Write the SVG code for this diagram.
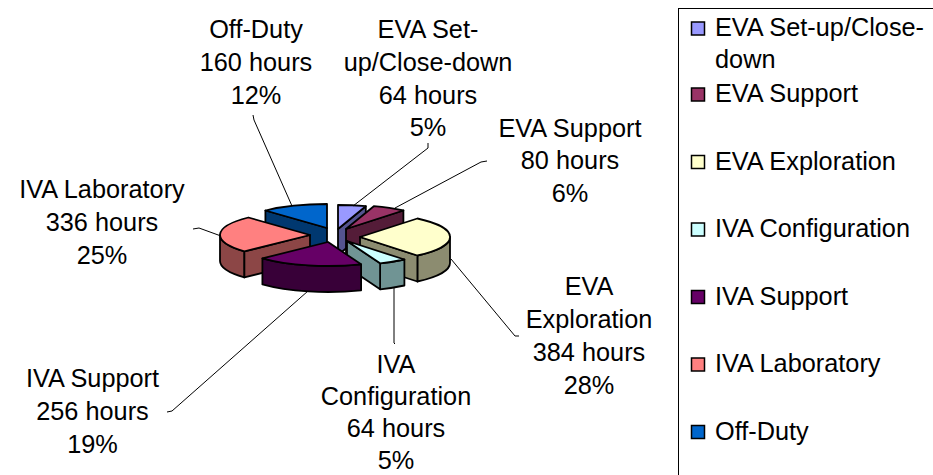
<svg xmlns="http://www.w3.org/2000/svg" width="933" height="475" viewBox="0 0 933 475">
<style>
 text { font-family: "Liberation Sans", Arial, sans-serif; font-size: 25.3px; fill: #000; }
 .lbl { text-anchor: middle; }
 .f { stroke: #000; stroke-width: 1.8; stroke-linejoin: round; }
 .lead { fill: none; stroke: #000; stroke-width: 1; }
 .mk { stroke: #000; stroke-width: 1.5; }
</style>
<rect width="933" height="475" fill="#fff"/>

<g id="pie">
 <g id="slice-offduty">
  <path class="f" fill="#003870" d="M327,228 L265.4,210.5 L265.4,236.5 L327,254 Z"/>
  <path class="f" fill="#0066CC" d="M327,228 L265.4,210.5 A90,24 0 0 1 327,204 Z"/>
 </g>
 <g id="slice-eva-setup">
  <path class="f" fill="#545490" d="M338,229 L365.8,206.2 L365.8,232.2 L338,255 Z"/>
  <path class="f" fill="#9999FF" d="M338,229 L338,205 A90,24 0 0 1 365.8,206.2 Z"/>
 </g>
 <g id="slice-eva-support">
  <path class="f" fill="#541C38" d="M346,229 L403.4,210.5 L403.4,236.5 L346,255 Z"/>
  <path class="f" fill="#993366" d="M346,229 L373.8,206.2 A90,24 0 0 1 403.4,210.5 Z"/>
 </g>
 <g id="slice-iva-lab">
  <path class="f" fill="#8C4646" d="M244.4,251.4 A90,24 0 0 1 220,235 L220,261 A90,24 0 0 0 244.4,277.4 Z"/>
  <path class="f" fill="#8C4646" d="M310,235 L244.4,251.4 L244.4,277.4 L310,261 Z"/>
  <path class="f" fill="#FF8080" d="M310,235 L244.4,251.4 A90,24 0 0 1 248.4,217.5 Z"/>
 </g>
 <g id="slice-eva-exploration">
  <path class="f" fill="#8C8C70" d="M450,237 A90,24 0 0 1 417.4,255.5 L417.4,281.5 A90,24 0 0 0 450,263 Z"/>
  <path class="f" fill="#8C8C70" d="M360,237 L417.4,255.5 L417.4,281.5 L360,263 Z"/>
  <path class="f" fill="#FFFFCC" d="M360,237 L417.4,218.5 A90,24 0 0 1 417.4,255.5 Z"/>
 </g>
 <g id="slice-iva-config">
  <path class="f" fill="#709494" d="M404.4,259.5 A90,24 0 0 1 380.1,263.3 L380.1,289.3 A90,24 0 0 0 404.4,285.5 Z"/>
  <path class="f" fill="#709494" d="M347,241 L380.1,263.3 L380.1,289.3 L347,267 Z"/>
  <path class="f" fill="#CCFFFF" d="M347,241 L404.4,259.5 A90,24 0 0 1 380.1,263.3 Z"/>
 </g>
 <g id="slice-iva-support">
  <path class="f" fill="#380038" d="M361.1,264.3 A90,24 0 0 1 262.4,258.4 L262.4,284.4 A90,24 0 0 0 361.1,290.3 Z"/>
  <path class="f" fill="#660066" d="M328,242 L361.1,264.3 A90,24 0 0 1 262.4,258.4 Z"/>
 </g>
</g>

<g id="connectors">
 <path class="lead" d="M253,115 L254,120 L292,206"/>
 <path class="lead" d="M428,143 L428,148 L353,206"/>
 <path class="lead" d="M487,161 L481,162 L395,208"/>
 <path class="lead" d="M193,229 L199,228 L221,236"/>
 <path class="lead" d="M519,336 L515,336 L451,259"/>
 <path class="lead" d="M395,344 L394,343 L394,287"/>
 <path class="lead" d="M167,412 L172,411 L308,291"/>
</g>

<g id="label-offduty" class="lbl">
 <text x="256" y="38">Off-Duty</text>
 <text x="256" y="71">160 hours</text>
 <text x="256" y="103.5">12%</text>
</g>
<g id="label-eva-setup" class="lbl">
 <text x="428" y="38">EVA Set-</text>
 <text x="428" y="71">up/Close-down</text>
 <text x="428" y="103.5">64 hours</text>
 <text x="428" y="136">5%</text>
</g>
<g id="label-eva-support" class="lbl">
 <text x="570" y="136.5">EVA Support</text>
 <text x="570" y="169">80 hours</text>
 <text x="570" y="201.5">6%</text>
</g>
<g id="label-iva-lab" class="lbl">
 <text x="102" y="198">IVA Laboratory</text>
 <text x="102" y="231">336 hours</text>
 <text x="102" y="264">25%</text>
</g>
<g id="label-eva-exploration" class="lbl">
 <text x="589" y="295">EVA</text>
 <text x="589" y="328">Exploration</text>
 <text x="589" y="361">384 hours</text>
 <text x="589" y="394">28%</text>
</g>
<g id="label-iva-config" class="lbl">
 <text x="396" y="373">IVA</text>
 <text x="396" y="405">Configuration</text>
 <text x="396" y="437">64 hours</text>
 <text x="396" y="469">5%</text>
</g>
<g id="label-iva-support" class="lbl">
 <text x="92.5" y="387">IVA Support</text>
 <text x="92.5" y="420">256 hours</text>
 <text x="92.5" y="453">19%</text>
</g>

<g id="legend">
 <rect x="678.5" y="8.5" width="300" height="500" fill="none" stroke="#000" stroke-width="1"/>
 <rect class="mk" x="691.5" y="22" width="13" height="13" fill="#9999FF"/>
 <text x="715" y="36">EVA Set-up/Close-</text>
 <text x="715" y="68">down</text>
 <rect class="mk" x="691.5" y="88" width="13" height="13" fill="#993366"/>
 <text x="715" y="102">EVA Support</text>
 <rect class="mk" x="691.5" y="155.5" width="13" height="13" fill="#FFFFCC"/>
 <text x="715" y="169.5">EVA Exploration</text>
 <rect class="mk" x="691.5" y="223" width="13" height="13" fill="#CCFFFF"/>
 <text x="715" y="237">IVA Configuration</text>
 <rect class="mk" x="691.5" y="290.5" width="13" height="13" fill="#660066"/>
 <text x="715" y="304.5">IVA Support</text>
 <rect class="mk" x="691.5" y="358" width="13" height="13" fill="#FF8080"/>
 <text x="715" y="372">IVA Laboratory</text>
 <rect class="mk" x="691.5" y="425.5" width="13" height="13" fill="#0066CC"/>
 <text x="715" y="439.5">Off-Duty</text>
</g>
</svg>
